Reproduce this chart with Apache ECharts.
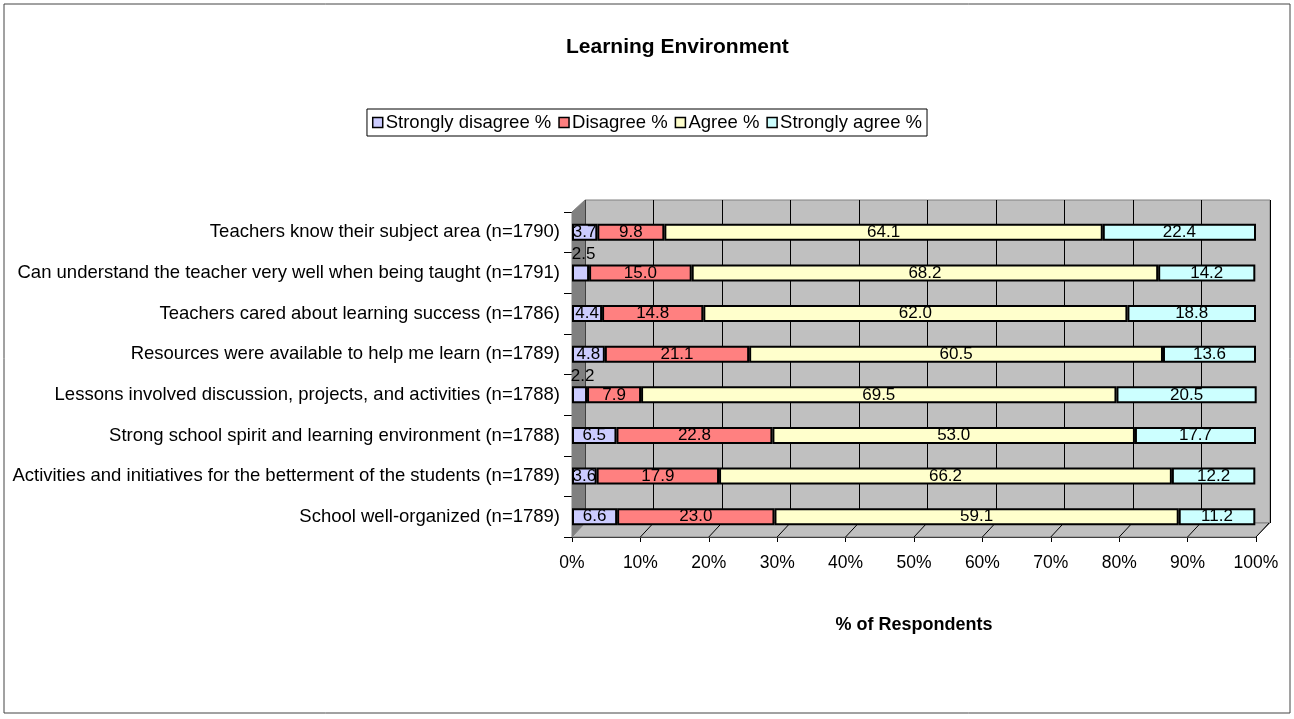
<!DOCTYPE html>
<html>
<head>
<meta charset="utf-8">
<script src="https://cdn.jsdelivr.net/npm/echarts@6/dist/echarts.min.js"></script>
<style>
  html, body { margin: 0; padding: 0; background: #fff; }
  #chart { width: 1294px; height: 719px; }
</style>
</head>
<body>
<div id="chart"></div>
<script>
// survey items, top to bottom
var categories = [
	'Teachers know their subject area (n=1790)',
	'Can understand the teacher very well when being taught (n=1791)',
	'Teachers cared about learning success (n=1786)',
	'Resources were available to help me learn (n=1789)',
	'Lessons involved discussion, projects, and activities (n=1788)',
	'Strong school spirit and learning environment (n=1788)',
	'Activities and initiatives for the betterment of the students (n=1789)',
	'School well-organized (n=1789)'
];
var stronglyDisagree = [3.7, 2.5, 4.4, 4.8, 2.2, 6.5, 3.6, 6.6];
var disagree = [9.8, 15.0, 14.8, 21.1, 7.9, 22.8, 17.9, 23.0];
var agree = [64.1, 68.2, 62.0, 60.5, 69.5, 53.0, 66.2, 59.1];
var stronglyAgree = [22.4, 14.2, 18.8, 13.6, 20.5, 17.7, 12.2, 11.2];
var seriesNames = ['Strongly disagree %', 'Disagree %', 'Agree %', 'Strongly agree %'];
var colors = ['#CCCCFF', '#FF8080', '#FFFFCC', '#CCFFFF'];

var FONT = '"Liberation Sans", Arial, sans-serif';
var chart = echarts.init(document.getElementById('chart'));

function makeSeries(idx, values) {
	return {
		name: seriesNames[idx],
		type: 'bar',
		stack: 'total',
		xAxisIndex: 1,
		yAxisIndex: 1,
		barWidth: 17,
		itemStyle: { color: colors[idx], borderColor: '#000', borderWidth: 2 },
		label: {
			show: true,
			position: 'inside',
			color: '#000',
			fontFamily: FONT,
			fontSize: 17,
			formatter: function (p) { return p.value.toFixed(1); }
		},
		data: values.map(function (v) {
			// too narrow: Excel put the label above the bar
			if (v < 3) {
				return { value: v, label: { position: 'top', distance: 2, offset: [3, 0] } };
			}
			return v;
		})
	};
}

var option = {
	animation: false,
	title: {
		text: 'Learning Environment',
		left: 561,
		top: 32,
		textStyle: { fontFamily: FONT, fontSize: 21, fontWeight: 'bold', color: '#000' }
	},
	legend: {
		data: seriesNames,
		top: 109,
		left: 'center',
		itemWidth: 10,
		itemHeight: 10,
		itemGap: 7,
		icon: 'rect',
		borderColor: '#000',
		borderWidth: 1,
		padding: [4, 5, 4, 5],
		itemStyle: { borderColor: '#000', borderWidth: 1.5 },
		textStyle: { fontFamily: FONT, fontSize: 18.5, color: '#000', padding: [0, 0, 0, -2] }
	},
	grid: [
		// back wall
		{ left: 585, right: 24, top: 200, bottom: 196, show: true, backgroundColor: '#C0C0C0', borderColor: '#808080', borderWidth: 1 },
		// front plane
		{ left: 572, right: 38, top: 212, bottom: 182 }
	],
	xAxis: [
		{
			gridIndex: 0, type: 'value', min: 0, max: 100, interval: 10,
			axisLine: { show: false }, axisTick: { show: false }, axisLabel: { show: false },
			splitLine: { show: true, lineStyle: { color: '#000', width: 1 } }
		},
		{
			gridIndex: 1, type: 'value', min: 0, max: 100, interval: 10,
			axisLine: { show: true, lineStyle: { color: '#000' } },
			axisTick: { show: true, length: 5, lineStyle: { color: '#000' } },
			axisLabel: { fontFamily: FONT, fontSize: 17.5, color: '#000', margin: 17, formatter: '{value}%' },
			splitLine: { show: false },
			name: '% of Respondents',
			nameLocation: 'middle',
			nameGap: 79,
			nameTextStyle: { fontFamily: FONT, fontSize: 18, fontWeight: 'bold', color: '#000' }
		}
	],
	yAxis: [
		{ gridIndex: 0, type: 'category', data: categories, inverse: true, show: false },
		{
			gridIndex: 1, type: 'category', data: categories, inverse: true,
			axisLine: { show: true, lineStyle: { color: '#000' } },
			axisTick: { show: true, length: 8, lineStyle: { color: '#000' } },
			axisLabel: { fontFamily: FONT, fontSize: 18.5, color: '#000', margin: 12 }
		}
	],
	series: [
		makeSeries(0, stronglyDisagree),
		makeSeries(1, disagree),
		makeSeries(2, agree),
		makeSeries(3, stronglyAgree)
	]
};
chart.setOption(option);

// 3D frame decoration: left wall, floor and floor grid diagonals
var f0 = chart.convertToPixel({ gridIndex: 1 }, [0, categories[0]]);
var b0 = chart.convertToPixel({ gridIndex: 0 }, [0, categories[0]]);
var f100 = chart.convertToPixel({ gridIndex: 1 }, [100, categories[0]]);
var b100 = chart.convertToPixel({ gridIndex: 0 }, [100, categories[0]]);
var frontBottom = 719 - 182, frontTop = 212;
var backBottom = 719 - 196, backTop = 200;
var dx = b0[0] - f0[0];
var graphics = [
	{ type: 'rect', shape: { x: 4, y: 4, width: 1286, height: 709 }, style: { fill: 'none', stroke: '#444', lineWidth: 1 }, z: 0 },
	{ type: 'polygon', shape: { points: [[f0[0], frontTop], [b0[0], backTop], [b0[0], backBottom], [f0[0], frontBottom]] }, style: { fill: '#808080', stroke: '#808080' }, z: 1 },
	{ type: 'polygon', shape: { points: [[f0[0], frontBottom], [b0[0], backBottom], [b100[0], backBottom], [f100[0], frontBottom]] }, style: { fill: '#C0C0C0', stroke: '#808080' }, z: 1 }
];
for (var t = 10; t <= 100; t += 10) {
	var fx = chart.convertToPixel({ gridIndex: 1 }, [t, categories[0]])[0];
	graphics.push({ type: 'line', shape: { x1: fx, y1: frontBottom, x2: fx + dx, y2: backBottom }, style: { stroke: '#000', lineWidth: 1 }, z: 2 });
}
chart.setOption({ graphic: graphics });
</script>
</body>
</html>
